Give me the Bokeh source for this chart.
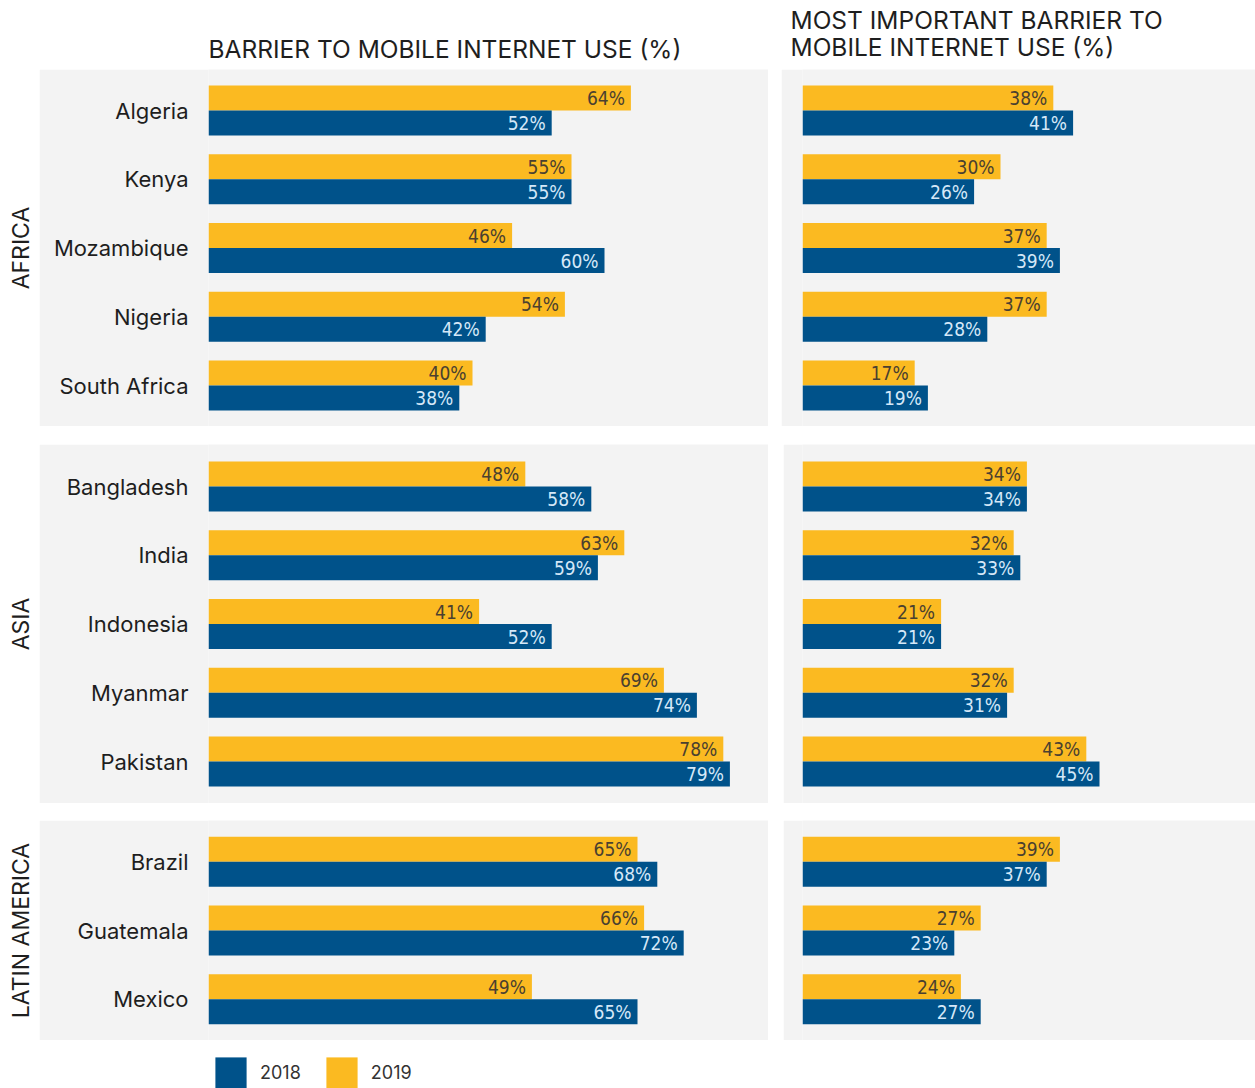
from math import pi
from bokeh.plotting import figure
from bokeh.models import (FactorRange, Range1d, ColumnDataSource, Label, Spacer,
                          Legend, LegendItem)
from bokeh.layouts import row, column
from bokeh.transform import dodge
from bokeh.core.properties import value
from bokeh.embed import file_html
from bokeh.resources import INLINE

# ---------------- data ----------------
regions = ["AFRICA", "ASIA", "LATIN AMERICA"]
africa = ["Algeria", "Kenya", "Mozambique", "Nigeria", "South Africa"]
asia = ["Bangladesh", "India", "Indonesia", "Myanmar", "Pakistan"]
latam = ["Brazil", "Guatemala", "Mexico"]

# Barrier to mobile internet use (%)
barrier_2019_africa = [64, 55, 46, 54, 40]
barrier_2018_africa = [52, 55, 60, 42, 38]
barrier_2019_asia = [48, 63, 41, 69, 78]
barrier_2018_asia = [58, 59, 52, 74, 79]
barrier_2019_latam = [65, 66, 49]
barrier_2018_latam = [68, 72, 65]

# Most important barrier to mobile internet use (%)
main_2019_africa = [38, 30, 37, 37, 17]
main_2018_africa = [41, 26, 39, 28, 19]
main_2019_asia = [34, 32, 21, 32, 43]
main_2018_asia = [34, 33, 21, 31, 45]
main_2019_latam = [39, 27, 24]
main_2018_latam = [37, 23, 27]

title_left = "BARRIER TO MOBILE INTERNET USE (%)"
title_right = ["MOST IMPORTANT BARRIER TO", "MOBILE INTERNET USE (%)"]
legend_labels = ["2018", "2019"]

# ---------------- style ----------------
YELLOW = "#FBBA21"
BLUE = "#00528A"
GREY = "#F3F3F3"
DARK_LABEL = "#4A4030"
LIGHT_LABEL = "#D5E8F8"
TEXT = "#1E1E1E"
FONT = "Inter"
NUM_FONT = "'DejaVu Sans Condensed', 'Liberation Sans Narrow', 'Roboto', sans-serif"

PX_PER_PCT = 6.6
PX_PER_ROW = 68.75
BAR = 25 / PX_PER_ROW

LEFT_W, LEFT_BORDER = 729, 169
BAR_ORIGIN_RIGHT = 802
RIGHT_STARTS = [781, 783, 783]
REGION_W = 39
HEIGHTS = [357, 359, 220]


def panel(countries, v19, v18, width, border, height, show_axis):
    pad = (height / PX_PER_ROW - len(countries)) / 2
    yr = FactorRange(factors=countries[::-1], range_padding=pad,
                     range_padding_units="absolute")
    xr = Range1d(0, (width - border) / PX_PER_PCT)
    p = figure(width=width, height=height, x_range=xr, y_range=yr,
               title=None, output_backend="svg", toolbar_location=None,
               x_axis_location=None,
               y_axis_location="left" if show_axis else None,
               min_border_left=border, min_border_right=0,
               min_border_top=0, min_border_bottom=0,
               background_fill_color=GREY, border_fill_color=GREY,
               outline_line_color=None)
    p.grid.visible = False
    src = ColumnDataSource(dict(
        country=countries, v19=v19, v18=v18,
        l19=[f"{v}%" for v in v19], l18=[f"{v}%" for v in v18]))
    y19 = dodge("country", BAR / 2, range=yr)
    y18 = dodge("country", -BAR / 2, range=yr)
    p.hbar(y=y19, left=0, right="v19", height=BAR, source=src,
           fill_color=YELLOW, line_color=None)
    p.hbar(y=y18, left=0, right="v18", height=BAR, source=src,
           fill_color=BLUE, line_color=None)
    p.text(x="v19", y=y19, text="l19", source=src, x_offset=-6,
           text_align="right", text_baseline="middle",
           text_font=value(NUM_FONT), text_font_size="19px",
           text_color=DARK_LABEL)
    p.text(x="v18", y=y18, text="l18", source=src, x_offset=-6,
           text_align="right", text_baseline="middle",
           text_font=value(NUM_FONT), text_font_size="19px",
           text_color=LIGHT_LABEL)
    if show_axis:
        ax = p.yaxis[0]
        ax.axis_line_color = None
        ax.major_tick_line_color = None
        ax.minor_tick_line_color = None
        ax.major_tick_out = 0
        ax.major_tick_in = 0
        ax.major_label_standoff = 20
        ax.major_label_text_font = FONT
        ax.major_label_text_font_size = "22px"
        ax.major_label_text_color = TEXT
    return p


def blank(width, height):
    p = figure(width=width, height=height, title=None, output_backend="svg",
               toolbar_location=None, x_axis_location=None,
               y_axis_location=None, min_border=0,
               x_range=Range1d(0, 1), y_range=Range1d(0, 1),
               outline_line_color=None, border_fill_color="white",
               background_fill_color="white")
    p.grid.visible = False
    return p


def region_fig(name, height):
    p = blank(REGION_W, height)
    p.add_layout(Label(x=20, y=height / 2, x_units="screen", y_units="screen",
                       text=name, angle=pi / 2, text_align="center",
                       text_baseline="middle", text_font=FONT,
                       text_font_size="23px", text_color=TEXT))
    return p


# header
header = blank(1255, 69)
for txt, x, y in [(title_left, 208, 21), (title_right[0], 790, 49.5),
                  (title_right[1], 790, 22.5)]:
    header.add_layout(Label(x=x, y=y, x_units="screen", y_units="screen",
                            text=txt, text_font=FONT, text_font_size="24.5px",
                            text_color=TEXT, text_baseline="middle"))

groups = [
    (africa, barrier_2019_africa, barrier_2018_africa, main_2019_africa, main_2018_africa),
    (asia, barrier_2019_asia, barrier_2018_asia, main_2019_asia, main_2018_asia),
    (latam, barrier_2019_latam, barrier_2018_latam, main_2019_latam, main_2018_latam),
]

rows = []
for i, (countries, b19, b18, m19, m18) in enumerate(groups):
    h = HEIGHTS[i]
    rs = RIGHT_STARTS[i]
    left = panel(countries, b19, b18, LEFT_W, LEFT_BORDER, h, True)
    right = panel(countries, m19, m18, 1255 - rs, BAR_ORIGIN_RIGHT - rs, h, False)
    gap = rs - (REGION_W + LEFT_W)
    rows.append(row(region_fig(regions[i], h), left, Spacer(width=gap, height=h), right))

# legend
leg = blank(1255, 48)
nan = float("nan")
swatch = ColumnDataSource(dict(l=[nan], r=[nan], b=[nan], t=[nan]))
r18 = leg.quad(left="l", right="r", bottom="b", top="t", source=swatch,
               fill_color=BLUE, line_color=None)
r19 = leg.quad(left="l", right="r", bottom="b", top="t", source=swatch,
               fill_color=YELLOW, line_color=None)
legend = Legend(items=[LegendItem(label=legend_labels[0], renderers=[r18]),
                       LegendItem(label=legend_labels[1], renderers=[r19])],
                orientation="horizontal", location=(211, -4),
                glyph_width=39, glyph_height=39, label_standoff=10,
                spacing=21, padding=0, margin=0, border_line_color=None,
                background_fill_alpha=0, label_text_font=FONT,
                label_text_font_size="18px", label_text_color="#333333")
leg.add_layout(legend)

layout = column(header, rows[0], Spacer(width=1255, height=18), rows[1],
                Spacer(width=1255, height=17), rows[2], leg)

open("out.html", "w").write(file_html(layout, INLINE))
